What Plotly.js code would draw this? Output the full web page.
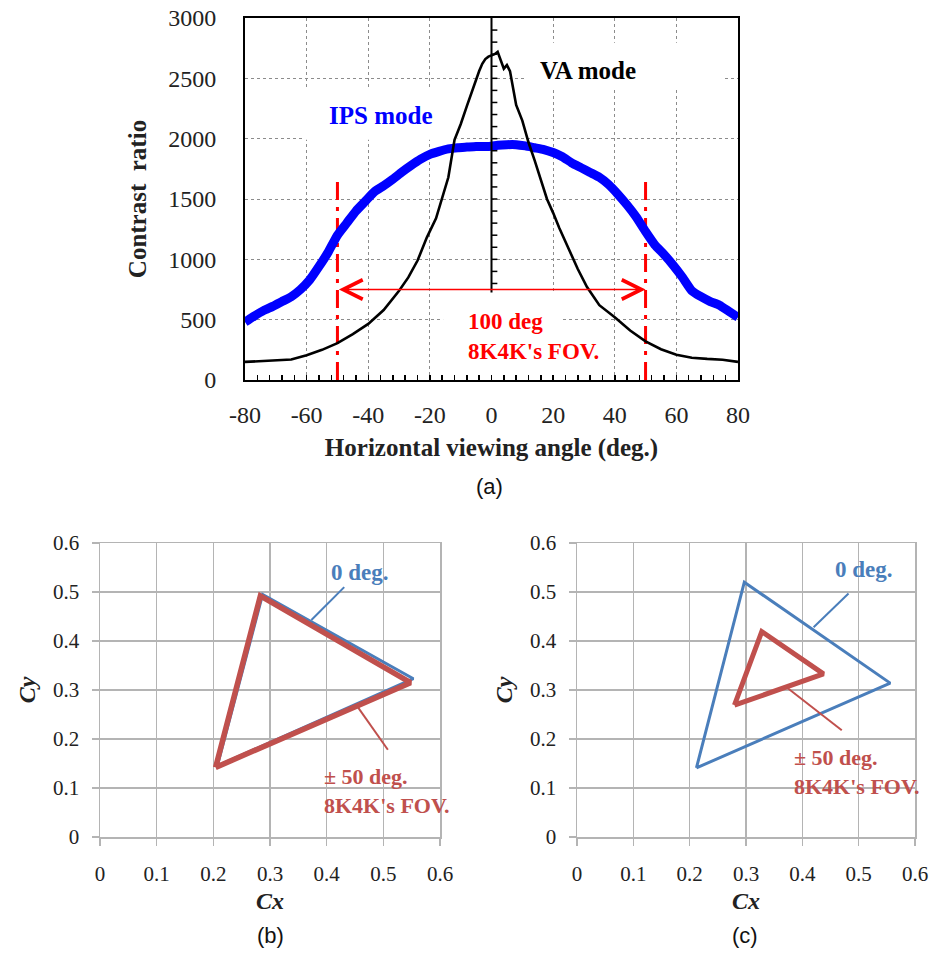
<!DOCTYPE html>
<html><head><meta charset="utf-8">
<script src="https://cdn.plot.ly/plotly-3.0.1.min.js"></script>
<style>html,body{margin:0;padding:0;background:#fff}#chart{width:944px;height:954px}</style>
</head><body><div id="chart"></div>
<script>
// ---------- (a) contrast ratio vs horizontal viewing angle ----------
const ipsAngle = [-80,-77,-74,-71,-68,-65,-62,-59,-56,-53,-50,-47,-44,-41,-38,-35,-32,-29,-26,-23,-20,-17,-14,-11,-8,-5,-2,0,2,5,8,11,14,17,20,23,26,29,32,35,38,41,44,47,50,53,56,59,62,65,68,71,74,77,80];
const ipsRatio = [480,530,575,610,650,690,750,830,940,1060,1200,1300,1400,1480,1560,1610,1665,1725,1780,1830,1870,1895,1915,1925,1930,1935,1935,1938,1945,1950,1950,1940,1925,1910,1885,1850,1800,1760,1720,1680,1620,1540,1450,1350,1230,1120,1040,950,850,740,690,650,620,570,520];
const vaAngle = [-80,-75,-70,-65,-60,-55,-50,-45,-40,-35,-30,-27,-24,-21,-18,-16,-14,-12,-10,-8,-6,-4,-3,-2,-1,0,1,2,3,4,5,6,7,8,10,12,14,16,18,20,22,25,28,31,35,40,45,50,55,60,65,70,75,80];
const vaRatio = [150,155,160,170,205,250,305,380,465,580,740,850,990,1180,1340,1520,1680,1990,2120,2270,2420,2560,2620,2660,2680,2690,2700,2720,2640,2580,2610,2560,2420,2280,2150,1970,1820,1650,1500,1385,1260,1090,920,770,620,520,410,320,255,210,185,175,168,150];
const fovAngles = [-50, 50];
const fovTop = 1690;
const fovArrowLevel = 750;
const ratioTicks = [0,500,1000,1500,2000,2500,3000];
const angleTicks = [-80,-60,-40,-20,0,20,40,60,80];

// ---------- (b) & (c) chromaticity triangles ----------
const cTicks = [0,0.1,0.2,0.3,0.4,0.5,0.6];
const b0x = [0.207,0.287,0.553,0.207];
const b0y = [0.145,0.495,0.323,0.145];
const b50x = [0.204,0.283,0.548,0.204];
const b50y = [0.142,0.492,0.315,0.142];
const c0x = [0.212,0.297,0.556,0.212];
const c0y = [0.141,0.520,0.314,0.141];
const c50x = [0.2795,0.328,0.4375,0.2795];
const c50y = [0.269,0.419,0.333,0.269];
// leader lines
const bLead0x = [0.431,0.373], bLead0y = [0.510,0.443];
const bLead50x = [0.455,0.508], bLead50y = [0.265,0.178];
const cLead0x = [0.482,0.420], cLead0y = [0.497,0.428];
const cLead50x = [0.3725,0.470], cLead50y = [0.305,0.218];

const W = 944, H = 954;
const px = v => v / W, py = v => 1 - v / H;
const serif = '"Liberation Serif", "Times New Roman", Times, serif';
const sans = '"Liberation Sans", Arial, sans-serif';
const BLUE = '#4a7ebb', RED = '#c0504d';

const traces = [];
// FOV dash-dot lines
fovAngles.forEach(a => traces.push({x:[a,a], y:[0,fovTop], type:'scatter', mode:'lines', showlegend:false,
  line:{color:'#ff0000', width:3, dash:'18px,7px,4px,7px'}, xaxis:'x', yaxis:'y'}));
traces.push({x: ipsAngle, y: ipsRatio, type:'scatter', mode:'lines', name:'IPS mode', showlegend:false,
  line:{color:'#0000ff', width:9, shape:'spline', smoothing:0.5}, xaxis:'x', yaxis:'y'});
traces.push({x: vaAngle, y: vaRatio, type:'scatter', mode:'lines', name:'VA mode', showlegend:false,
  line:{color:'#000000', width:2.6}, xaxis:'x', yaxis:'y'});

// (b)
traces.push({x:b0x, y:b0y, type:'scatter', mode:'lines', showlegend:false, line:{color:BLUE, width:3}, xaxis:'x2', yaxis:'y2'});
traces.push({x:b50x, y:b50y, type:'scatter', mode:'lines', showlegend:false, line:{color:RED, width:5.5}, xaxis:'x2', yaxis:'y2'});
traces.push({x:bLead0x, y:bLead0y, type:'scatter', mode:'lines', showlegend:false, line:{color:BLUE, width:2}, xaxis:'x2', yaxis:'y2'});
traces.push({x:bLead50x, y:bLead50y, type:'scatter', mode:'lines', showlegend:false, line:{color:RED, width:2}, xaxis:'x2', yaxis:'y2'});
// (c)
traces.push({x:c0x, y:c0y, type:'scatter', mode:'lines', showlegend:false, line:{color:BLUE, width:3}, xaxis:'x3', yaxis:'y3'});
traces.push({x:c50x, y:c50y, type:'scatter', mode:'lines', showlegend:false, line:{color:RED, width:5}, xaxis:'x3', yaxis:'y3'});
traces.push({x:cLead0x, y:cLead0y, type:'scatter', mode:'lines', showlegend:false, line:{color:BLUE, width:2}, xaxis:'x3', yaxis:'y3'});
traces.push({x:cLead50x, y:cLead50y, type:'scatter', mode:'lines', showlegend:false, line:{color:RED, width:2}, xaxis:'x3', yaxis:'y3'});

// decoration shapes for (a)
const shapes = [
  {type:'rect', xref:'x', yref:'y', x0:-60.6, x1:-11, y0:1990, y1:2420, fillcolor:'#fff', line:{width:0}, layer:'between'},
  {type:'rect', xref:'x', yref:'y', x0:11, x1:74.8, y0:2420, y1:2795, fillcolor:'#fff', line:{width:0}, layer:'between'},
  {type:'rect', xref:'x', yref:'y', x0:-15.7, x1:22.9, y0:0, y1:720, fillcolor:'#fff', line:{width:0}, layer:'between'},
  {type:'line', xref:'x', yref:'y', x0:0, x1:0, y0:725, y1:3000, line:{color:'#000', width:2}, layer:'above'}
];
for (let v = 800; v < 3000; v += 100) {
  shapes.push({type:'line', xref:'x', yref:'y', x0:0, x1:1.9, y0:v, y1:v, line:{color:'#000', width:1.5}, layer:'above'});
}

const cAxis = (dom, anchor, isX) => ({
  domain: dom, anchor: anchor, range:[0,0.6], tickvals:cTicks, ticktext:cTicks.map(String),
  showgrid:true, gridcolor:'#b4b4b4', gridwidth:1.5, zeroline:false,
  showline:true, linecolor:'#b4b4b4', linewidth:1.5, mirror:true,
  ticks:'outside', ticklen:7, tickcolor:'#b4b4b4', tickwidth:1.5,
  ticklabelstandoff: isX ? 10 : 8,
  tickfont:{family:serif, size:21, color:'#222'},
  title:{text: isX ? '<b><i>Cx</i></b>' : '<b><i>Cy</i></b>', font:{family:serif, size:24, color:'#222'}, standoff: isX ? 7 : 10},
  fixedrange:true
});

const ann = (o) => Object.assign({xanchor:'center', yanchor:'middle', showarrow:false}, o);

const layout = {
  width: W, height: H, margin:{l:0,r:0,t:0,b:0},
  paper_bgcolor:'#fff', plot_bgcolor:'#fff', showlegend:false,
  font:{family:serif},
  xaxis: {
    domain:[px(245), px(738)], anchor:'y', range:[-80,80], tickvals:angleTicks, ticktext:angleTicks.map(String),
    showgrid:true, gridcolor:'#8c8c8c', gridwidth:1, griddash:'dot', zeroline:false,
    showline:true, linecolor:'#000', linewidth:2, mirror:true,
    ticks:'inside', ticklen:5, tickcolor:'#000', tickwidth:1.5,
    minor:{dtick:4, tick0:0, ticks:'inside', ticklen:5, tickcolor:'#000', tickwidth:1.5, showgrid:false},
    ticklabelstandoff: 12,
    tickfont:{family:serif, size:24, color:'#222'},
    title:{text:'<b>Horizontal viewing angle (deg.)</b>', font:{family:serif, size:25, color:'#222'}, standoff:12},
    fixedrange:true
  },
  yaxis: {
    domain:[py(380), py(18)], anchor:'x', range:[0,3000], tickvals:ratioTicks, ticktext:ratioTicks.map(String),
    showgrid:true, gridcolor:'#8c8c8c', gridwidth:1, griddash:'dot', zeroline:false,
    showline:true, linecolor:'#000', linewidth:2, mirror:true,
    ticks:'', ticklabelstandoff: 22,
    tickfont:{family:serif, size:24, color:'#222'},
    title:{text:'<b>Contrast\u00a0 ratio</b>', font:{family:serif, size:25, color:'#222'}, standoff:14},
    fixedrange:true
  },
  xaxis2: cAxis([px(100), px(440)], 'y2', true),
  yaxis2: cAxis([py(837), py(543)], 'x2', false),
  xaxis3: cAxis([px(577), px(915)], 'y3', true),
  yaxis3: cAxis([py(837), py(543)], 'x3', false),
  shapes: shapes,
  annotations: [
    ann({xref:'x', yref:'y', x:-35.9, y:2188, text:'<b>IPS mode</b>', font:{family:serif, size:25, color:'#0000ff'}}),
    ann({xref:'x', yref:'y', x:31.2, y:2561, text:'<b>VA mode</b>', font:{family:serif, size:25, color:'#000'}}),
    ann({xref:'x', yref:'y', x:-8.3, y:360, xanchor:'left', align:'left', text:"<b>100 deg<br>8K4K's FOV.</b>", font:{family:serif, size:23, color:'#ff0000'}}),
    {xref:'x', yref:'y', axref:'x', ayref:'y', x:fovAngles[1], y:fovArrowLevel, ax:fovAngles[0], ay:fovArrowLevel, text:'',
      showarrow:true, arrowside:'end+start', arrowhead:5, startarrowhead:5, arrowsize:2.4, startarrowsize:2.4, arrowwidth:1.6, arrowcolor:'#ff0000', standoff:0, startstandoff:0},
    ann({xref:'paper', yref:'paper', x:px(490), y:py(487), text:'(a)', font:{family:sans, size:22, color:'#111'}}),
    // (b)
    ann({xref:'x2', yref:'y2', x:0.459, y:0.539, text:'<b>0 deg.</b>', font:{family:serif, size:23, color:BLUE}}),
    ann({xref:'x2', yref:'y2', x:0.392, y:0.094, xanchor:'left', align:'left', text:"<b>\u00b1 50 deg.<br>8K4K's FOV.</b>", font:{family:serif, size:22, color:RED}}),
    ann({xref:'paper', yref:'paper', x:px(270), y:py(935), text:'(b)', font:{family:sans, size:22, color:'#111'}}),
    // (c)
    ann({xref:'x3', yref:'y3', x:0.51, y:0.545, text:'<b>0 deg.</b>', font:{family:serif, size:23, color:BLUE}}),
    ann({xref:'x3', yref:'y3', x:0.382, y:0.133, xanchor:'left', align:'left', text:"<b>\u00b1 50 deg.<br>8K4K's FOV.</b>", font:{family:serif, size:22, color:RED}}),
    ann({xref:'paper', yref:'paper', x:px(745), y:py(935), text:'(c)', font:{family:sans, size:22, color:'#111'}})
  ]
};

Plotly.newPlot('chart', traces, layout, {staticPlot:true, displayModeBar:false});
</script>
</body></html>
